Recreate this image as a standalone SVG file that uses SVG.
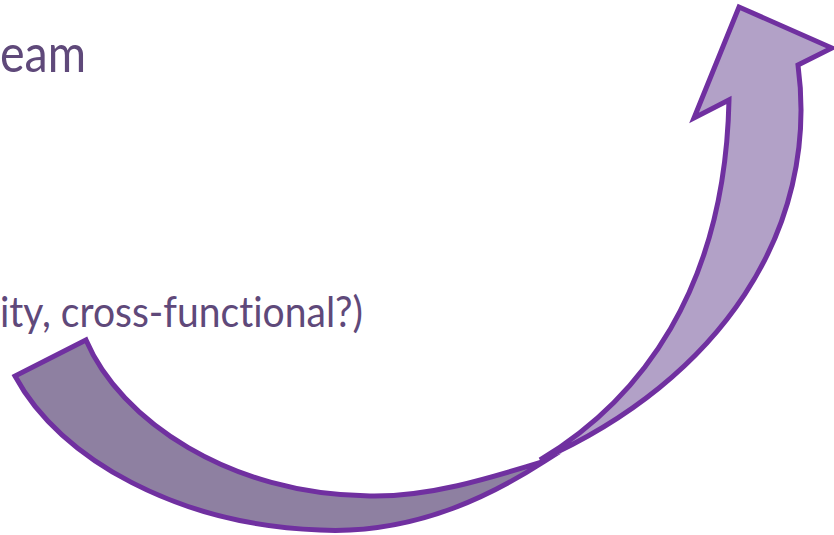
<svg xmlns="http://www.w3.org/2000/svg" width="834" height="535" viewBox="0 0 834 535">
  <style>
    .txt { font-family: Lato, "Open Sans", "Liberation Sans", sans-serif; fill: #5F497A; font-variant-ligatures: none; font-feature-settings: "liga" 0, "clig" 0; }
    .rib { stroke: #7030A0; stroke-width: 5; stroke-linejoin: miter; stroke-miterlimit: 10; }
    .back { fill: #8E80A1; }
    .front { fill: #B2A1C7; }
  </style>
  <rect width="834" height="535" fill="#FFFFFF"/>
  <g id="text-1">
    <text class="txt" x="0" y="72" font-size="52" textLength="86" lengthAdjust="spacingAndGlyphs">eam</text>
  </g>
  <g id="text-2">
    <text class="txt" x="0" y="327" font-size="42" textLength="363" lengthAdjust="spacingAndGlyphs">ity, cross-functional?)</text>
  </g>
  <g id="curved-arrow">
    <path id="arrow-back" class="rib back" d="M86,340 C120,420 230,495 370,496 C430,497 490,478 545,461 C500,490 420,535 320,530 C180,525 60,460 15,376 Z"/>
    <path id="arrow-front" class="rib front" d="M540,460 C640,400 725,290 729,100 L694,118 L739,7 L832,48 L798,65 C820,230 720,380 540,460 Z"/>
  </g>
</svg>
